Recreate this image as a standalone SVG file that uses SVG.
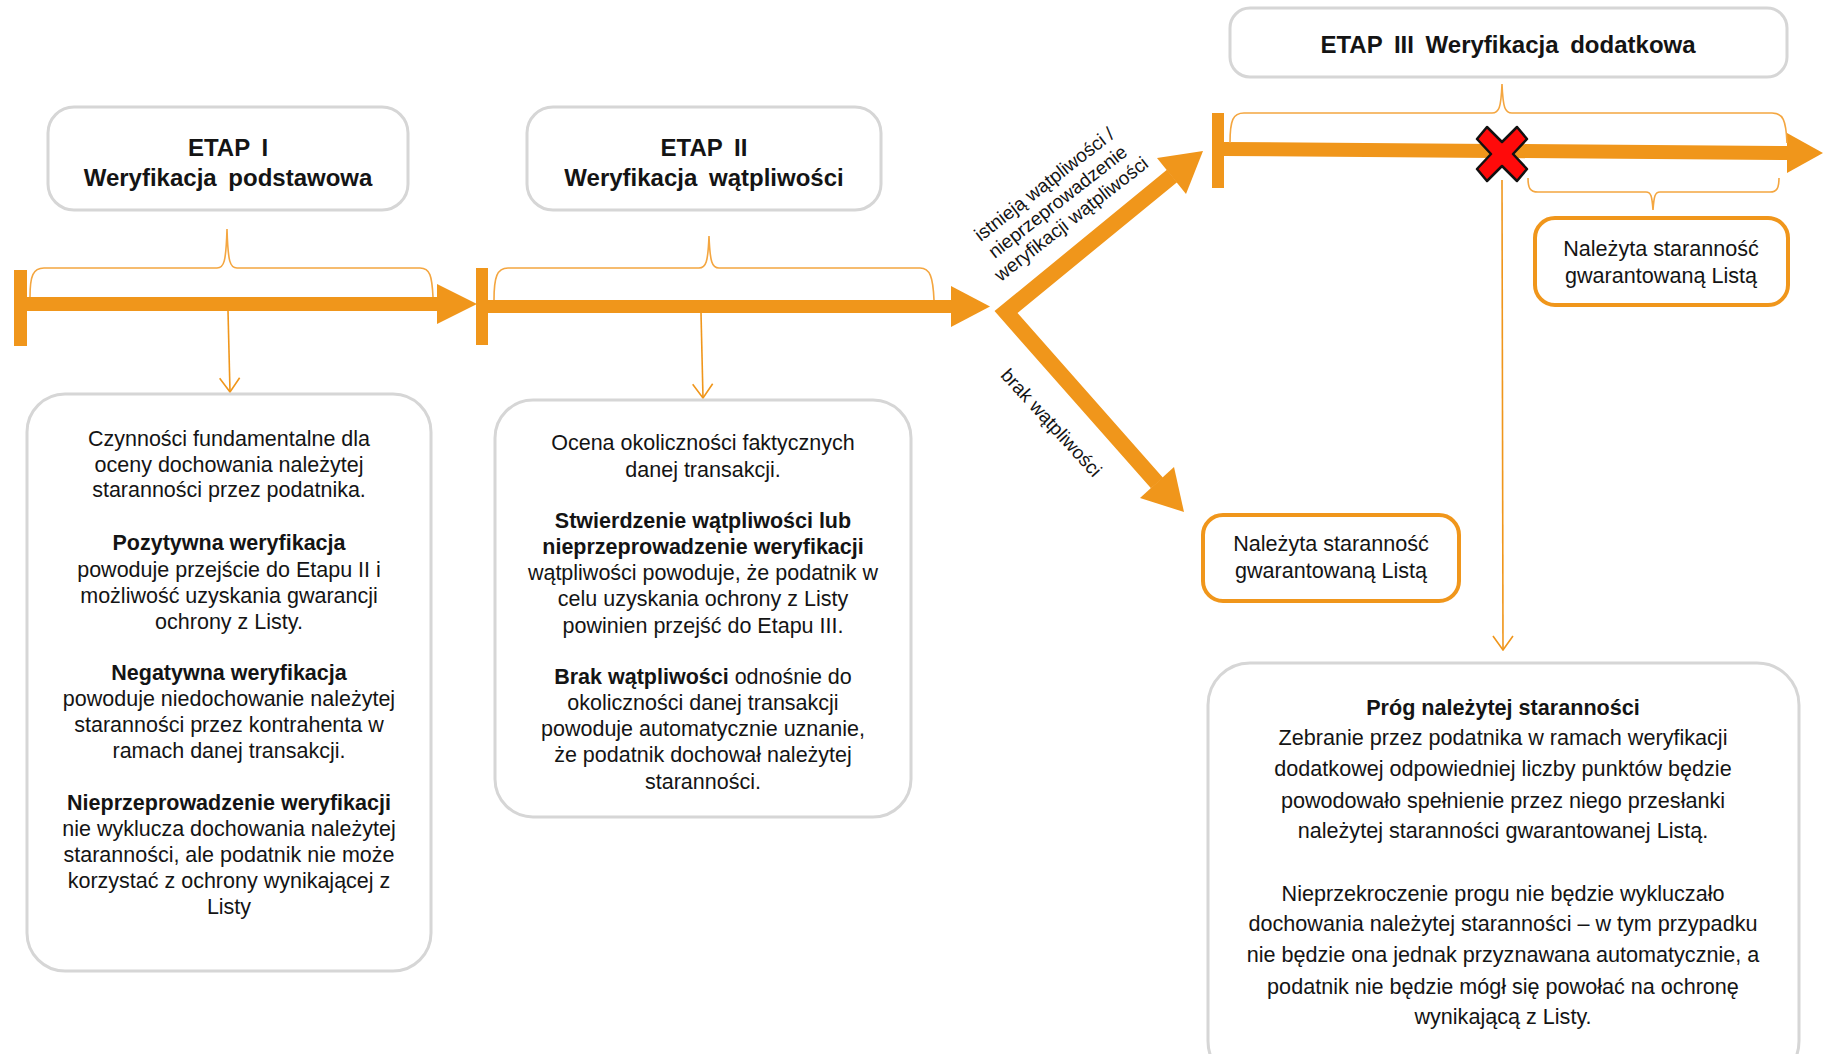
<svg xmlns="http://www.w3.org/2000/svg" width="1823" height="1054" viewBox="0 0 1823 1054">
<style>
text{font-family:"Liberation Sans",Arial,sans-serif;fill:#141414}
.title{font-size:24px;font-weight:bold;text-anchor:middle;word-spacing:5px}
.body{font-size:21.5px;text-anchor:middle}
.b3{font-size:21.6px;text-anchor:middle}
.lbl{font-size:19px;text-anchor:middle}
.bold{font-weight:bold}
.gbox{fill:#fff;stroke:#d6d6d6;stroke-width:3}
.obox{fill:#fff;stroke:#F0961B;stroke-width:4}
.or{fill:#F0961B}
.brace{fill:none;stroke:#F4A640;stroke-width:1.6}
.thin{fill:none;stroke:#F0961B;stroke-width:1.6}
</style>
<defs>
<marker id="v" viewBox="0 0 16 22" refX="15" refY="11" markerWidth="16" markerHeight="22" markerUnits="userSpaceOnUse" orient="auto">
<path d="M1,1 L15,11 L1,21" fill="none" stroke="#F0961B" stroke-width="1.6"/>
</marker>
</defs>
<rect width="1823" height="1054" fill="#fff"/>

<g id="connectors">
<!-- timeline 1 -->
<rect class="or" x="14" y="270" width="13" height="76"/>
<rect class="or" x="27" y="297" width="412" height="14"/>
<polygon class="or" points="437,284 477,304 437,324"/>
<path class="brace" d="M30,297 C30,276 33,268 44,268 L217,268 C224,268 226,262 227,229 C228,262 230,268 237,268 L420,268 C430,268 432,276 433,297"/>
<path class="thin" d="M228,311 L230,392" marker-end="url(#v)"/>
<!-- timeline 2 -->
<rect class="or" x="476" y="268" width="12" height="77"/>
<rect class="or" x="488" y="300" width="465" height="13"/>
<polygon class="or" points="951,286 990,306.5 951,327"/>
<path class="brace" d="M494,300 C494,277 497,268 508,268 L699,268 C706,268 708,262 709,236 C710,262 712,268 719,268 L920,268 C930,268 933,277 934,300"/>
<path class="thin" d="M701,313 L703,398" marker-end="url(#v)"/>
<!-- junction -->
<polyline points="1172,176 1006,312 1157,483" fill="none" stroke="#F0961B" stroke-width="16" stroke-linejoin="miter" stroke-miterlimit="10"/>
<polygon class="or" points="1203,151 1186,194 1157,158"/>
<polygon class="or" points="1184,512 1174,467 1140,498"/>
<!-- timeline 3 -->
<rect class="or" x="1212" y="113" width="12" height="75"/>
<polygon class="or" points="1224,142 1789,146 1789,160 1224,156"/>
<polygon class="or" points="1787,133 1823,153 1787,173"/>
<path class="brace" d="M1230,143 C1230,120 1233,113 1244,113 L1492,113 C1499,113 1501,108 1502,84 C1503,108 1505,113 1512,113 L1772,113 C1783,113 1786,120 1787,143"/>
<path class="brace" d="M1528,178 C1528,188 1530,192 1538,192 L1646,192 C1651,192 1652,196 1653,210 C1654,196 1655,192 1660,192 L1770,192 C1777,192 1779,188 1779,178"/>
<path class="thin" d="M1502,180 L1503,650" marker-end="url(#v)"/>
<polygon points="-25,-15 -15,-27 0,-12 15,-27 25,-15 11,0 25,15 15,27 0,12 -15,27 -25,15 -11,0" transform="translate(1502,154)" fill="#FF0A0A" stroke="#111" stroke-width="2.5" stroke-linejoin="round"/>
</g>

<g id="etap1-title">
<rect class="gbox" x="48" y="107" width="360" height="103" rx="26"/>
<text class="title" x="228" y="156">ETAP I</text>
<text class="title" x="228" y="186">Weryfikacja podstawowa</text>
</g>

<g id="etap2-title">
<rect class="gbox" x="527" y="107" width="354" height="103" rx="26"/>
<text class="title" x="704" y="156">ETAP II</text>
<text class="title" x="704" y="186">Weryfikacja wątpliwości</text>
</g>

<g id="etap3-title">
<rect class="gbox" x="1230" y="8" width="557" height="69" rx="20"/>
<text class="title" x="1508" y="53">ETAP III Weryfikacja dodatkowa</text>
</g>

<g id="etap1-desc">
<rect class="gbox" x="27" y="394" width="404" height="577" rx="38"/>
<text class="body" x="229" y="446">Czynności fundamentalne dla</text>
<text class="body" x="229" y="472">oceny dochowania należytej</text>
<text class="body" x="229" y="497">staranności przez podatnika.</text>
<text class="body bold" x="229" y="550">Pozytywna weryfikacja</text>
<text class="body" x="229" y="577">powoduje przejście do Etapu II  i</text>
<text class="body" x="229" y="603">możliwość uzyskania gwarancji</text>
<text class="body" x="229" y="629">ochrony z Listy.</text>
<text class="body bold" x="229" y="680">Negatywna weryfikacja</text>
<text class="body" x="229" y="706">powoduje niedochowanie należytej</text>
<text class="body" x="229" y="732">staranności przez kontrahenta w</text>
<text class="body" x="229" y="758">ramach danej transakcji.</text>
<text class="body bold" x="229" y="810">Nieprzeprowadzenie weryfikacji</text>
<text class="body" x="229" y="836">nie wyklucza dochowania należytej</text>
<text class="body" x="229" y="862">staranności, ale podatnik nie może</text>
<text class="body" x="229" y="888">korzystać z ochrony wynikającej z</text>
<text class="body" x="229" y="914">Listy</text>
</g>

<g id="etap2-desc">
<rect class="gbox" x="495" y="400" width="416" height="417" rx="38"/>
<text class="body" x="703" y="450">Ocena okoliczności faktycznych</text>
<text class="body" x="703" y="477">danej transakcji.</text>
<text class="body bold" x="703" y="528">Stwierdzenie wątpliwości lub</text>
<text class="body bold" x="703" y="554">nieprzeprowadzenie weryfikacji</text>
<text class="body" x="703" y="580">wątpliwości powoduje, że podatnik w</text>
<text class="body" x="703" y="606">celu uzyskania ochrony z Listy</text>
<text class="body" x="703" y="633">powinien przejść do Etapu III.</text>
<text class="body" x="703" y="684"><tspan class="bold">Brak wątpliwości</tspan>  odnośnie do</text>
<text class="body" x="703" y="710">okoliczności danej transakcji</text>
<text class="body" x="703" y="736">powoduje automatycznie uznanie,</text>
<text class="body" x="703" y="762">że podatnik dochował należytej</text>
<text class="body" x="703" y="789">staranności.</text>
</g>

<g id="label-yes">
<g transform="translate(1058,202) rotate(-38)">
<text class="lbl" x="0" y="-16">istnieją  wątpliwości /</text>
<text class="lbl" x="0" y="6">nieprzeprowadzenie</text>
<text class="lbl" x="0" y="28">weryfikacji wątpliwości</text>
</g>
</g>

<g id="label-no">
<text class="lbl" transform="translate(1051,423) rotate(47.5)" x="0" y="6">brak wątpliwości</text>
</g>

<g id="result-no-doubt">
<rect class="obox" x="1203" y="515" width="256" height="86" rx="20"/>
<text class="b3" x="1331" y="551">Należyta staranność</text>
<text class="b3" x="1331" y="578">gwarantowaną Listą</text>
</g>

<g id="result-etap3">
<rect class="obox" x="1535" y="218" width="253" height="87" rx="20"/>
<text class="b3" x="1661" y="256">Należyta staranność</text>
<text class="b3" x="1661" y="283">gwarantowaną Listą</text>
</g>

<g id="threshold">
<rect class="gbox" x="1208" y="663" width="591" height="420" rx="42"/>
<text class="b3 bold" x="1503" y="715">Próg należytej staranności</text>
<text class="b3" x="1503" y="745">Zebranie przez podatnika w ramach weryfikacji</text>
<text class="b3" x="1503" y="776">dodatkowej odpowiedniej liczby punktów będzie</text>
<text class="b3" x="1503" y="808">powodowało spełnienie przez niego przesłanki</text>
<text class="b3" x="1503" y="838">należytej staranności gwarantowanej Listą.</text>
<text class="b3" x="1503" y="901">Nieprzekroczenie progu nie będzie wykluczało</text>
<text class="b3" x="1503" y="931">dochowania należytej staranności – w tym przypadku</text>
<text class="b3" x="1503" y="962">nie będzie ona jednak przyznawana automatycznie, a</text>
<text class="b3" x="1503" y="994">podatnik nie będzie mógł się powołać na ochronę</text>
<text class="b3" x="1503" y="1024">wynikającą z Listy.</text>
</g>
</svg>
